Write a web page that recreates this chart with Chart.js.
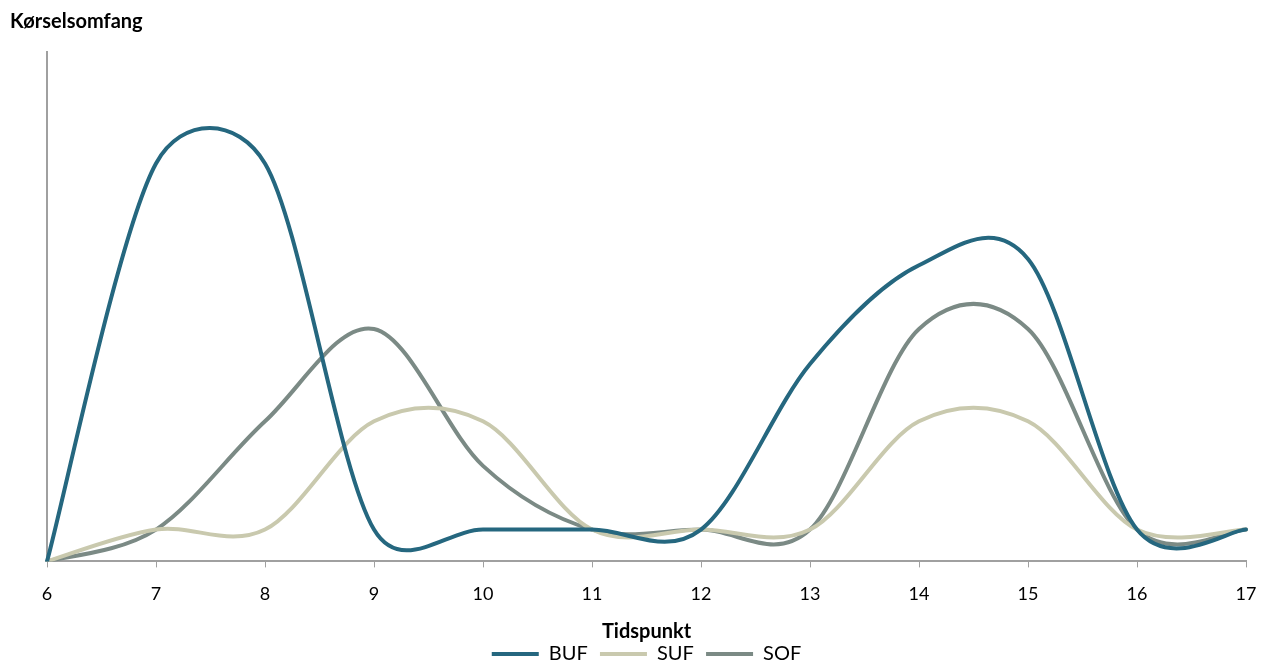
<!DOCTYPE html>
<html>
<head>
<meta charset="utf-8">
<script src="https://cdn.jsdelivr.net/npm/chart.js@4"></script>
<style>
  html, body { margin: 0; padding: 0; background: #fff; overflow: hidden; }
  #wrap { width: 1261px; height: 674px; }
</style>
</head>
<body>
<div id="wrap"><canvas id="myChart"></canvas></div>
<script>
const labels = ["6", "7", "8", "9", "10", "11", "12", "13", "14", "15", "16", "17"];

// values (1 unit ~ the flat level at 10-12)
const buf = [0, 12.5, 12.5, 1, 1, 1, 1, 6.2, 9.3, 9.5, 1, 1];
const suf = [0, 1, 1, 4.4, 4.4, 1, 1, 1, 4.4, 4.4, 1, 1];
const sof = [0, 1, 4.4, 7.3, 3, 1, 1, 1, 7.3, 7.3, 1, 1];

const font = "Lato, 'Liberation Sans', sans-serif";
const axisColor = "#a0a0a0";

// Excel-style smoothing: Catmull-Rom tangents (1/6), arms capped at half the segment
const excelSmooth = {
  id: "excelSmooth",
  beforeDatasetDraw(chart, args) {
    const meta = args.meta;
    meta.dataset.updateControlPoints(chart.chartArea, meta.iAxis);
    const pts = meta.data;
    const n = pts.length;
    for (let i = 0; i < n; i++) {
      const p1 = pts[i];
      const p0 = pts[Math.max(i - 1, 0)];
      const p2 = pts[Math.min(i + 1, n - 1)];
      const tx = p2.x - p0.x, ty = p2.y - p0.y;
      const d02 = Math.hypot(tx, ty);
      const d01 = Math.hypot(p1.x - p0.x, p1.y - p0.y);
      const d12 = Math.hypot(p2.x - p1.x, p2.y - p1.y);
      if (d02 === 0) {
        p1.cp1x = p1.cp2x = p1.x; p1.cp1y = p1.cp2y = p1.y;
        continue;
      }
      const k1 = Math.min(1 / 6, 0.5 * d01 / d02);
      const k2 = Math.min(1 / 6, 0.5 * d12 / d02);
      p1.cp1x = p1.x - k1 * tx; p1.cp1y = p1.y - k1 * ty;
      p1.cp2x = p1.x + k2 * tx; p1.cp2y = p1.y + k2 * ty;
    }
  }
};

// the y axis caption sits top left, above the plot
const topCaption = {
  id: "topCaption",
  afterDraw(chart) {
    const c = chart.ctx;
    c.save();
    c.font = "bold 20px " + font;
    c.fillStyle = "#000";
    c.textBaseline = "middle";
    c.fillText("Kørselsomfang", 10, 22);
    c.restore();
  }
};

function line(label, data, color) {
  return {
    label,
    data,
    borderColor: color,
    backgroundColor: color,
    borderWidth: 4,
    borderCapStyle: "round",
    borderJoinStyle: "round",
    pointRadius: 0,
    tension: 0.4,
    fill: false
  };
}

const ctx = document.querySelector("#myChart").getContext("2d");

new Chart(ctx, {
  type: "line",
  data: {
    labels,
    datasets: [
      line("BUF", buf, "#25677f"),
      line("SUF", suf, "#c9c9ae"),
      line("SOF", sof, "#7b8a85")
    ]
  },
  plugins: [excelSmooth, topCaption],
  options: {
    responsive: true,
    maintainAspectRatio: false,
    animation: false,
    layout: { padding: { left: 47, right: 15, top: 52, bottom: 0 } },
    plugins: {
      legend: {
        position: "bottom",
        title: {
          display: true,
          text: "Tidspunkt",
          color: "#000",
          padding: { top: 1, bottom: 0 },
          font: { family: font, size: 20, weight: "bold", lineHeight: 1 }
        },
        labels: {
          usePointStyle: true,
          pointStyle: "line",
          pointStyleWidth: 47,
          color: "#000",
          padding: 2,
          font: { family: font, size: 20 },
          generateLabels(chart) {
            const items = Chart.defaults.plugins.legend.labels.generateLabels(chart);
            items.forEach((it, i) => {
              if (i < items.length - 1) it.text += "  ";
            });
            return items;
          }
        }
      },
      tooltip: { enabled: false }
    },
    scales: {
      x: {
        offset: false,
        grid: {
          display: true,
          drawOnChartArea: false,
          drawTicks: true,
          tickLength: 6,
          color: axisColor,
          offset: false
        },
        border: { display: true, color: axisColor, width: 2 },
        ticks: {
          color: "#000",
          padding: 16,
          maxRotation: 0,
          font: { family: font, size: 18 }
        },
        afterFit: (scale) => { scale.paddingRight = 0; scale.paddingLeft = 0; }
      },
      y: {
        min: 0,
        max: 16,
        grid: { display: false },
        border: { display: true, color: axisColor, width: 2 },
        ticks: { display: false },
        afterFit: (scale) => { scale.width = 0; }
      }
    }
  }
});
</script>
</body>
</html>
